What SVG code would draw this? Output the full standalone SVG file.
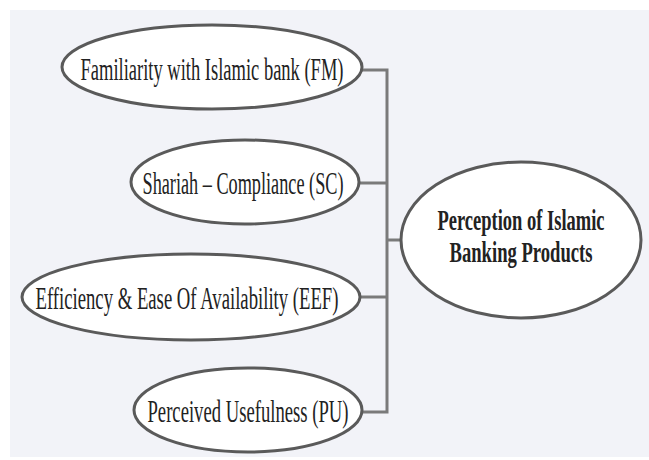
<svg xmlns="http://www.w3.org/2000/svg" width="649" height="460" viewBox="0 0 649 460">
<style>
.node ellipse{fill:#ffffff;stroke:#5a5a5a;stroke-width:3}
.node text{font-family:"Liberation Serif","Times New Roman",serif;font-size:18.5px;fill:#222;text-anchor:middle}
.node text.b{font-weight:bold}
.conn path{fill:none;stroke:#7a7a7a;stroke-width:3}
</style>
<rect x="0" y="0" width="649" height="460" fill="#ffffff"/>
<rect x="10" y="10" width="639" height="447" fill="#f2f3f8"/>
<g id="connectors" class="conn">
<path d="M362,70 H387 V412 H362"/>
<path d="M359,183 H387"/>
<path d="M361,297 H387"/>
<path d="M387,240 H401"/>
</g>
<g id="node-fm" class="node">
<ellipse cx="212" cy="67" rx="150" ry="42"/>
<text transform="translate(212,80) scale(1,1.65)" textLength="263" lengthAdjust="spacingAndGlyphs">Familiarity with Islamic bank (FM)</text>
</g>
<g id="node-sc" class="node">
<ellipse cx="245" cy="182" rx="114" ry="42"/>
<text transform="translate(243,194) scale(1,1.65)" textLength="201" lengthAdjust="spacingAndGlyphs">Shariah – Compliance (SC)</text>
</g>
<g id="node-eef" class="node">
<ellipse cx="191" cy="297" rx="169" ry="43"/>
<text transform="translate(187,309) scale(1,1.65)" textLength="303" lengthAdjust="spacingAndGlyphs">Efficiency &amp; Ease Of Availability (EEF)</text>
</g>
<g id="node-pu" class="node">
<ellipse cx="248" cy="410" rx="114" ry="42"/>
<text transform="translate(248,422) scale(1,1.65)" textLength="201" lengthAdjust="spacingAndGlyphs">Perceived Usefulness (PU)</text>
</g>
<g id="node-pibp" class="node">
<ellipse cx="521" cy="240" rx="120" ry="78"/>
<text class="b" transform="translate(521,230) scale(1,1.6)" textLength="167" lengthAdjust="spacingAndGlyphs">Perception of Islamic</text>
<text class="b" transform="translate(521,262) scale(1,1.6)" textLength="143" lengthAdjust="spacingAndGlyphs">Banking Products</text>
</g>
</svg>
